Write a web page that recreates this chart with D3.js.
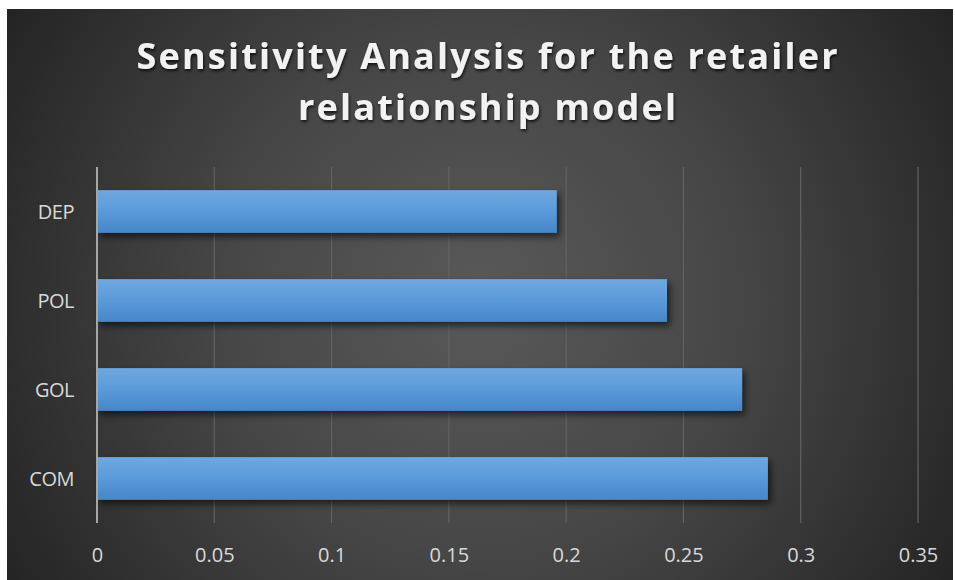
<!DOCTYPE html>
<html>
<head>
<meta charset="utf-8">
<script src="https://cdn.jsdelivr.net/npm/d3@7"></script>
<style>
  html, body { margin: 0; padding: 0; background: #ffffff; }
  svg { display: block; }
</style>
</head>
<body>
<svg id="chart" width="955" height="580"></svg>
<script>
// Sensitivity values per factor, listed from top to bottom
const categories = ["DEP", "POL", "GOL", "COM"];
const sensitivity = [0.196, 0.243, 0.275, 0.286];
const xTicks = [0, 0.05, 0.1, 0.15, 0.2, 0.25, 0.3, 0.35];
const titleLines = ["Sensitivity Analysis for the retailer", "relationship model"];

const svg = d3.select("#chart");
const defs = svg.append("defs");

// Dark radial backdrop, lighter towards the middle
const bg = defs.append("radialGradient").attr("id", "bgGrad")
  .attr("gradientUnits", "userSpaceOnUse")
  .attr("cx", 480).attr("cy", 300).attr("r", 560);
bg.append("stop").attr("offset", "0%").attr("stop-color", "#595959");
bg.append("stop").attr("offset", "45%").attr("stop-color", "#474747");
bg.append("stop").attr("offset", "100%").attr("stop-color", "#232323");

// Bar fill: light blue on top, deeper blue at the bottom
const barGrad = defs.append("linearGradient").attr("id", "barGrad")
  .attr("x1", 0).attr("y1", 0).attr("x2", 0).attr("y2", 1);
barGrad.append("stop").attr("offset", "0%").attr("stop-color", "#70a8e0");
barGrad.append("stop").attr("offset", "50%").attr("stop-color", "#5a9ada");
barGrad.append("stop").attr("offset", "100%").attr("stop-color", "#4686c9");

const barShadow = defs.append("filter").attr("id", "barShadow")
  .attr("x", "-10%").attr("y", "-30%").attr("width", "130%").attr("height", "180%");
barShadow.append("feDropShadow").attr("dx", 3).attr("dy", 4)
  .attr("stdDeviation", 3.5).attr("flood-color", "#000").attr("flood-opacity", 0.6);

const textShadow = defs.append("filter").attr("id", "textShadow")
  .attr("x", "-5%").attr("y", "-30%").attr("width", "110%").attr("height", "170%");
textShadow.append("feDropShadow").attr("dx", 1).attr("dy", 2)
  .attr("stdDeviation", 1.6).attr("flood-color", "#000").attr("flood-opacity", 0.75);

svg.append("rect")
  .attr("x", 7).attr("y", 9).attr("width", 946).attr("height", 571)
  .attr("fill", "url(#bgGrad)");

// Scales
const x = d3.scaleLinear().domain([0, 0.35]).range([97, 918]);
const y = d3.scaleBand().domain(categories).range([167, 523])
  .paddingInner(0.52).paddingOuter(0.26);

// Vertical gridlines
svg.append("g").selectAll("line")
  .data(xTicks.filter(d => d > 0))
  .join("line")
  .attr("x1", d => x(d)).attr("x2", d => x(d))
  .attr("y1", 167).attr("y2", 523)
  .attr("stroke", "#626262").attr("stroke-width", 1.2);

// Bars
svg.append("g").selectAll("rect")
  .data(categories.map((c, i) => ({ c, v: sensitivity[i] })))
  .join("rect")
  .attr("x", x(0))
  .attr("y", d => y(d.c))
  .attr("width", d => x(d.v) - x(0))
  .attr("height", y.bandwidth())
  .attr("fill", "url(#barGrad)")
  .attr("filter", "url(#barShadow)");

// Category axis line
svg.append("line")
  .attr("x1", x(0)).attr("x2", x(0))
  .attr("y1", 167).attr("y2", 523)
  .attr("stroke", "#a6a6a6").attr("stroke-width", 2);

// Value axis (labels only)
const xAxis = svg.append("g")
  .attr("transform", "translate(0,562)")
  .call(d3.axisBottom(x).tickValues(xTicks).tickSize(0).tickPadding(0)
    .tickFormat(d => String(+d.toFixed(2))));
xAxis.select(".domain").remove();
xAxis.selectAll("text")
  .attr("dy", 0)
  .attr("fill", "#d9d9d9")
  .style("font-family", "'Open Sans', sans-serif")
  .style("font-size", "20px");

// Category axis (labels only)
const yAxis = svg.append("g")
  .attr("transform", "translate(74,0)")
  .call(d3.axisLeft(y).tickSize(0).tickPadding(0));
yAxis.select(".domain").remove();
yAxis.selectAll("text")
  .attr("dy", "0.36em")
  .attr("fill", "#d9d9d9")
  .style("font-family", "'Open Sans', sans-serif")
  .style("font-size", "20px")
  .style("letter-spacing", "-0.5px");

// Title, spaced out to span its line widths
const titleWidths = [701, 378];
const titleBaselines = [69, 120];
const title = svg.append("g").attr("filter", "url(#textShadow)");
titleLines.forEach((line, i) => {
  const t = title.append("text")
    .attr("x", 487).attr("y", titleBaselines[i])
    .attr("text-anchor", "middle")
    .attr("fill", "#f2f2f2")
    .style("font-family", "'Open Sans', sans-serif")
    .style("font-weight", "bold")
    .style("font-size", "36px")
    .text(line);
  const natural = t.node().getComputedTextLength();
  const ls = (titleWidths[i] - natural) / (line.length - 1);
  t.style("letter-spacing", ls + "px").attr("x", 487 + ls / 2);
});
</script>
</body>
</html>
